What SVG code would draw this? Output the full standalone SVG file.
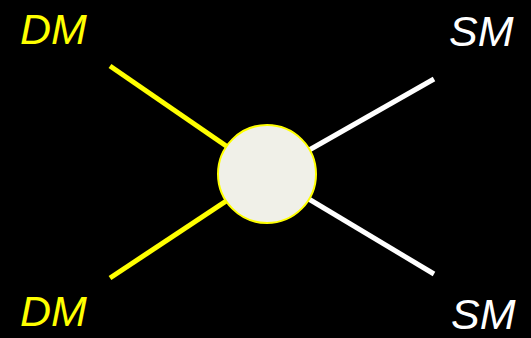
<svg xmlns="http://www.w3.org/2000/svg" width="531" height="338" viewBox="0 0 531 338">
<style>
.lbl{font-family:"Liberation Sans",Arial,sans-serif;font-style:italic;font-size:43px}
.y{fill:#ffff00}.w{fill:#ffffff}
.ly{stroke:#ffff00;stroke-width:5}.lw{stroke:#ffffff;stroke-width:5}
</style>
<rect x="0" y="0" width="531" height="338" fill="#000000"/>
<g id="connectors">
<line class="ly" x1="110" y1="66" x2="267" y2="174"/>
<line class="ly" x1="110" y1="278" x2="267" y2="174"/>
<line class="lw" x1="434" y1="79" x2="267" y2="174"/>
<line class="lw" x1="434" y1="274" x2="267" y2="174"/>
</g>
<g id="vertex">
<circle cx="267" cy="174" r="49" fill="#f0f0e8" stroke="#ffff00" stroke-width="2"/>
</g>
<g id="dm-top"><text class="lbl y" x="20" y="44">DM</text></g>
<g id="sm-top"><text class="lbl w" x="449" y="46">SM</text></g>
<g id="dm-bottom"><text class="lbl y" x="20" y="326">DM</text></g>
<g id="sm-bottom"><text class="lbl w" x="451" y="329" font-size="42">SM</text></g>
</svg>
